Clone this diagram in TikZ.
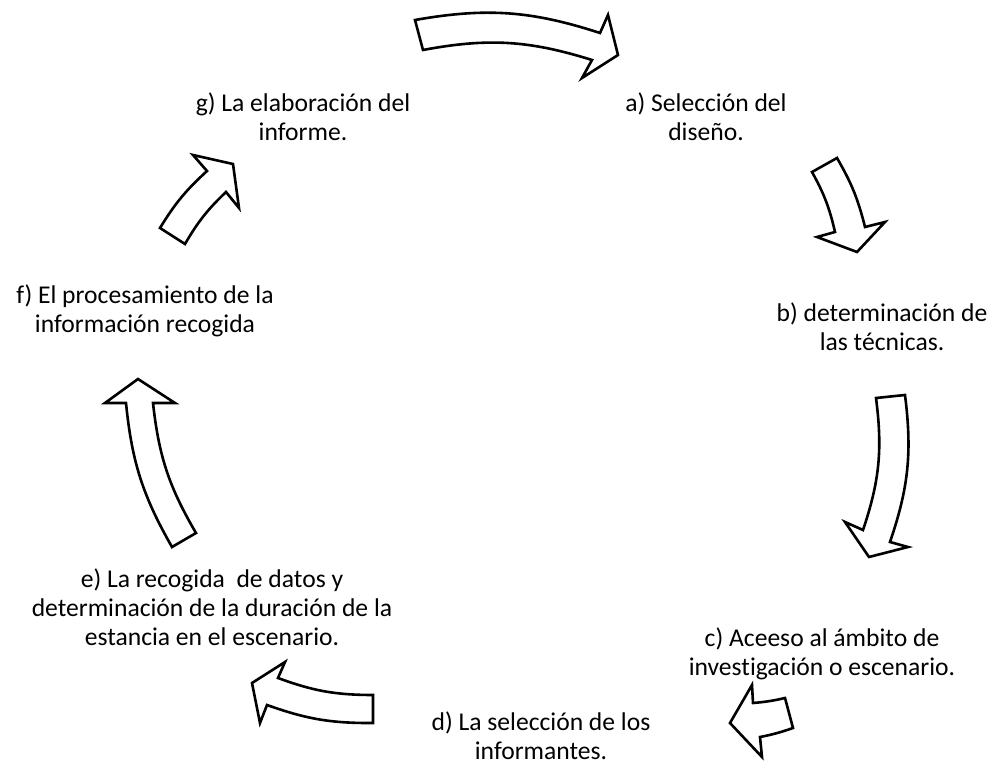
\documentclass[tikz,border=0pt]{standalone}
\usepackage{fontspec}
\setmainfont{Carlito}[RawFeature={-liga;-clig;-calt}]
\tikzset{paso/.style = {align=center, inner sep=0pt, font=\fontsize{12.8}{14.5}\selectfont}}
\tikzset{flecha/.style = {draw, fill=white, line width=1.3pt, line join=miter}}

\begin{document}
\begin{tikzpicture}[x=0.5pt, y=-0.5pt]
  \useasboundingbox (0,0) rectangle (997,771);
  \node [paso] (elab) at (303,117) {g) La elaboración del\\informe.};
  \node [paso] (sel) at (706,117) {a) Selección del\\diseño.};
  \node [paso] (tec) at (882,327) {b) determinación de\\las técnicas.};
  \node [paso] (acc) at (822,654) {c) Aceeso al ámbito de\\investigación o escenario.};
  \node [paso] (inf) at (541,736) {d) La selección de los\\informantes.};
  \node [paso] (rec) at (212,607) {e) La recogida\ \ de datos y\\determinación de la duración de la\\estancia en el escenario.};
  \node [paso] (proc) at (145,311) {f) El procesamiento de la\\información recogida};
  % flechas del ciclo
  \draw [flecha] (415,20) to[bend left=14] (600,33) -- (608,15) -- (618,55) -- (582,78) -- (592,60) to[bend right=14] (423,50) -- cycle;
  \draw [flecha] (812,172) to[bend left=8] (835,232) -- (817,237) -- (857,252) -- (885,222) -- (865,227) to[bend right=8] (837,158) -- cycle;
  \draw [flecha] (876,398) to[bend left=13] (863,530) -- (845,522) -- (869,557) -- (908,547) -- (890,542) to[bend right=13] (905,395) -- cycle;
  \draw [flecha] (785,698) to[bend left=4] (753,703) -- (752,685) -- (730,723) -- (762,757) -- (760,737) to[bend right=4] (793,728) -- cycle;
  \draw [flecha] (373,695) to[bend left=10] (278,678) -- (285,662) -- (252,683) -- (260,723) -- (267,705) to[bend right=10] (373,723) -- cycle;
  \draw [flecha] (172,547) to[bend left=12] (126,403) -- (105,403) -- (138,379) -- (175,403) -- (153,403) to[bend right=12] (196,533) -- cycle;
  \draw [flecha] (160,228) to[bend left=8] (207,171) -- (193,155) -- (233,164) -- (239,208) -- (226,192) to[bend right=8] (185,244) -- cycle;
\end{tikzpicture}
\end{document}
